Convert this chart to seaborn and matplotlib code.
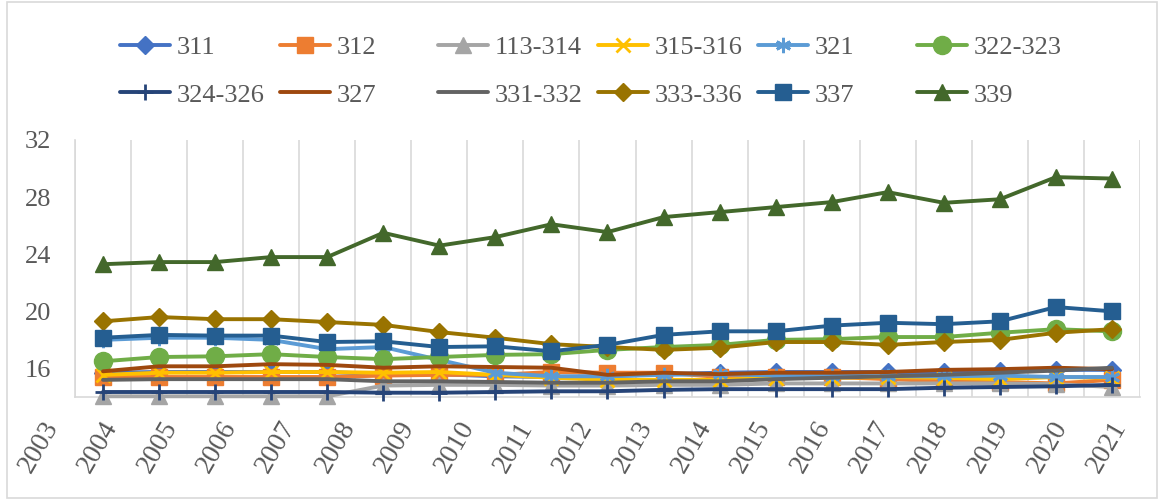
import numpy as np
import matplotlib
matplotlib.use("Agg")
import matplotlib.pyplot as plt
import matplotlib.patches as mpatches
import matplotlib.transforms as mtransforms
import seaborn as sns

years = [str(y) for y in range(2003, 2022)]

s311 = [15.7, 15.75, 15.75, 15.75, 15.75, 15.6, 15.6, 15.45, 15.4, 15.45, 15.6, 15.7, 15.75, 15.75, 15.75, 15.75, 15.8, 15.9, 15.9]
s312 = [15.4, 15.4, 15.4, 15.4, 15.4, 15.5, 15.55, 15.55, 15.75, 15.7, 15.7, 15.4, 15.4, 15.4, 15.25, 15.1, 15.05, 14.95, 15.2]
s113_314 = [14.05, 14.05, 14.05, 14.05, 14.05, 14.8, 14.85, 14.85, 14.8, 14.8, 14.85, 14.85, 14.95, 14.95, 14.95, 14.95, 14.95, 14.9, 14.7]
s315_316 = [15.55, 15.7, 15.7, 15.75, 15.75, 15.7, 15.75, 15.55, 15.35, 15.2, 15.2, 15.2, 15.35, 15.35, 15.4, 15.35, 15.25, 15.4, 15.35]
s321 = [18.0, 18.15, 18.15, 18.0, 17.35, 17.5, 16.6, 15.7, 15.45, 15.45, 15.55, 15.6, 15.5, 15.5, 15.45, 15.45, 15.5, 15.4, 15.4]
s322_323 = [16.5, 16.8, 16.85, 17.0, 16.8, 16.65, 16.8, 16.95, 17.0, 17.3, 17.5, 17.65, 18.0, 18.05, 18.2, 18.2, 18.5, 18.75, 18.6]
s324_326 = [14.35, 14.35, 14.35, 14.35, 14.35, 14.3, 14.3, 14.35, 14.4, 14.4, 14.5, 14.55, 14.55, 14.55, 14.55, 14.65, 14.7, 14.75, 14.85]
s327 = [15.8, 16.15, 16.15, 16.3, 16.25, 16.05, 16.15, 16.1, 16.05, 15.55, 15.7, 15.6, 15.7, 15.7, 15.75, 15.9, 15.95, 16.05, 15.95]
s331_332 = [15.2, 15.25, 15.25, 15.25, 15.25, 15.1, 15.1, 15.05, 15.0, 15.0, 15.1, 15.1, 15.25, 15.35, 15.45, 15.55, 15.7, 15.85, 16.05]
s333_336 = [19.3, 19.6, 19.45, 19.45, 19.25, 19.05, 18.55, 18.15, 17.7, 17.5, 17.3, 17.45, 17.85, 17.85, 17.65, 17.85, 18.0, 18.5, 18.75]
s337 = [18.15, 18.35, 18.3, 18.3, 17.85, 17.9, 17.5, 17.55, 17.2, 17.65, 18.35, 18.6, 18.6, 19.0, 19.2, 19.1, 19.3, 20.3, 20.0]
s339 = [23.3, 23.45, 23.45, 23.8, 23.8, 25.5, 24.6, 25.2, 26.1, 25.55, 26.6, 26.95, 27.3, 27.65, 28.35, 27.6, 27.85, 29.4, 29.3]

labels = ["311", "312", "113-314", "315-316", "321", "322-323",
          "324-326", "327", "331-332", "333-336", "337", "339"]
series = [s311, s312, s113_314, s315_316, s321, s322_323,
          s324_326, s327, s331_332, s333_336, s337, s339]

# excel office palette, marker, marker size, marker edge width
styles = [
    ("#4472C4", "D", 9, 1),
    ("#ED7D31", "s", 11, 1),
    ("#A5A5A5", "^", 12, 1),
    ("#FFC000", "x", 10, 2),
    ("#5B9BD5", (6, 2, 0), 11, 2),
    ("#70AD47", "o", 13, 1),
    ("#264478", "+", 12, 2),
    ("#9E480E", None, 0, 1),
    ("#636363", None, 0, 1),
    ("#997300", "D", 9, 1),
    ("#255E91", "s", 12, 1),
    ("#43682B", "^", 12, 1),
]

sns.set_theme(style="white")
plt.rcParams["font.family"] = ["Liberation Serif", "DejaVu Serif"]
text_color = "#595959"

fig = plt.figure(figsize=(11.64, 5.0), dpi=100)
ax = fig.add_axes([75 / 1164, 103 / 500, 1065 / 1164, 257 / 500])

x = np.arange(len(years))
handles = []
for i, (lab, vals, (color, marker, ms, mew)) in enumerate(zip(labels, series, styles)):
    sns.lineplot(x=x, y=vals, ax=ax, color=color, linewidth=2.8,
                 marker=marker, markersize=ms, markeredgecolor=color,
                 markerfacecolor=color, markeredgewidth=mew,
                 label=lab, legend=False, zorder=3 + i, clip_on=False)
    handles.append(ax.lines[-1])

ax.set_yticks([16, 20, 24, 28, 32])
ax.set_xticks(np.arange(-0.5, len(years), 1), minor=True)
ax.set_xticks(x)
ax.set_xticklabels([])
ax.set_xlim(-0.5, len(years) - 0.5)
ax.set_ylim(14, 32)
ax.grid(which="minor", axis="x", color="#D9D9D9", linewidth=1.2)
ax.grid(which="major", axis="both", visible=False)
ax.tick_params(axis="both", which="both", length=0, labelsize=19, colors=text_color)
ax.tick_params(axis="y", pad=17)
ax.set_xlabel("")
ax.set_ylabel("")

# year labels sit a bit left of their categories in the original
label_pos = -1.09 + np.arange(len(years)) * 1.059
trans = mtransforms.blended_transform_factory(ax.transData, ax.transAxes)
trans = trans + mtransforms.ScaledTranslation(0, -20 / 100, fig.dpi_scale_trans)
for pos, yr in zip(label_pos, years):
    ax.text(pos, 0, yr, transform=trans, rotation=60, ha="right", va="top",
            rotation_mode="anchor", fontsize=20, color=text_color, clip_on=False)

for side in ["top", "right"]:
    ax.spines[side].set_visible(False)
for side in ["left", "bottom"]:
    ax.spines[side].set_color("#D9D9D9")
    ax.spines[side].set_linewidth(1.2)

# legend laid out as 6 fixed-width columns, two rows
col_x = [120, 280, 438, 598, 758, 917]
for c in range(6):
    leg = fig.legend([handles[c], handles[c + 6]], [labels[c], labels[c + 6]],
                     loc="upper left", bbox_to_anchor=(col_x[c] / 1164, 1 - 36 / 500),
                     frameon=False, fontsize=19, handlelength=1.9,
                     handletextpad=0.25, labelspacing=0.9, borderpad=0,
                     borderaxespad=0)
    for t in leg.get_texts():
        t.set_color(text_color)

fig.patches.append(mpatches.Rectangle((7 / 1164, 2 / 500), 1150 / 1164, 496 / 500,
                                      transform=fig.transFigure, fill=False,
                                      edgecolor="#D9D9D9", linewidth=1.2))

fig.savefig("out.png", dpi=100)
